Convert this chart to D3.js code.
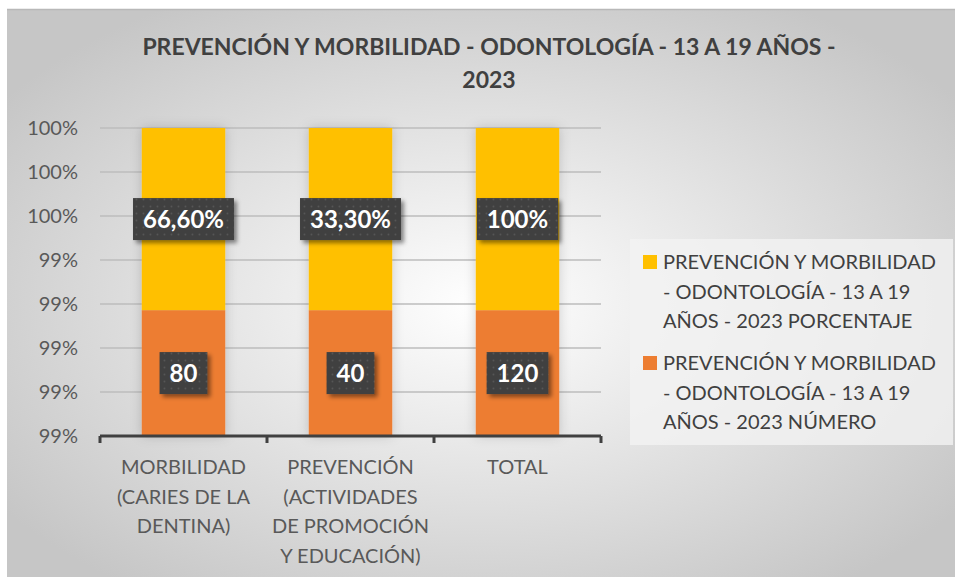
<!DOCTYPE html>
<html>
<head>
<meta charset="utf-8">
<script src="https://d3js.org/d3.v7.min.js"></script>
<style>
  body { margin: 0; background: #fff; }
  text { font-family: Lato, "Open Sans", sans-serif; }
</style>
</head>
<body>
<script>
// chart values
var categories = ['MORBILIDAD (CARIES DE LA DENTINA)', 'PREVENCIÓN (ACTIVIDADES DE PROMOCIÓN Y EDUCACIÓN)', 'TOTAL'];
var categoryLines = [['MORBILIDAD', '(CARIES DE LA', 'DENTINA)'], ['PREVENCIÓN', '(ACTIVIDADES', 'DE PROMOCIÓN', 'Y EDUCACIÓN)'], ['TOTAL']];
var numbers = [80, 40, 120];
var percentLabels = ['66,60%', '33,30%', '100%'];
// where each segment sits on the (odd) value axis
var axisMin = 0.993, axisMax = 1.0;
var numberTop = [0.99586, 0.99586, 0.99586];
var percentTop = [1.0, 1.0, 1.0];
var tickValues = [0.993, 0.994, 0.995, 0.996, 0.997, 0.998, 0.999, 1.0];
var tickLabels = ['99%', '99%', '99%', '99%', '99%', '100%', '100%', '100%'];
var seriesNames = [
  ['PREVENCIÓN Y MORBILIDAD', '- ODONTOLOGÍA - 13 A 19', 'AÑOS - 2023 PORCENTAJE'],
  ['PREVENCIÓN Y MORBILIDAD', '- ODONTOLOGÍA - 13 A 19', 'AÑOS - 2023 NÚMERO']
];
var colors = ['#ffc000', '#ed7d31'];

var width = 955, height = 577;
var svg = d3.select('body').append('svg').attr('width', width).attr('height', height);
var defs = svg.append('defs');

var bg = defs.append('radialGradient').attr('id', 'bg').attr('cx', '50%').attr('cy', '52%').attr('r', '62%');
bg.append('stop').attr('offset', '0%').attr('stop-color', '#ffffff');
bg.append('stop').attr('offset', '100%').attr('stop-color', '#c6c6c6');

var sh = defs.append('filter').attr('id', 'boxShadow').attr('x', '-20%').attr('y', '-20%').attr('width', '150%').attr('height', '160%');
sh.append('feDropShadow').attr('dx', 3).attr('dy', 3).attr('stdDeviation', 2).attr('flood-color', '#000').attr('flood-opacity', 0.45);

var barSh = defs.append('filter').attr('id', 'barShadow').attr('x', '-30%').attr('y', '-10%').attr('width', '160%').attr('height', '120%');
barSh.append('feDropShadow').attr('dx', 0).attr('dy', 0).attr('stdDeviation', 6).attr('flood-color', '#000').attr('flood-opacity', 0.18);

var pat = defs.append('pattern').attr('id', 'dots').attr('width', 7).attr('height', 7).attr('patternUnits', 'userSpaceOnUse');
pat.append('rect').attr('width', 7).attr('height', 7).attr('fill', '#404040');
pat.append('circle').attr('cx', 3.5).attr('cy', 3.5).attr('r', 0.9).attr('fill', '#575757');

// chart area background
svg.append('rect').attr('x', 7).attr('y', 9).attr('width', width - 7).attr('height', height - 9).attr('fill', 'url(#bg)');
svg.append('line').attr('x1', 7).attr('x2', width).attr('y1', 9.5).attr('y2', 9.5).attr('stroke', '#b8b8b8').attr('stroke-width', 1.5);

// title
var title = svg.append('text').attr('text-anchor', 'middle').attr('font-weight', 'bold').attr('font-size', 23).attr('fill', '#404040');
title.append('tspan').attr('x', 489).attr('y', 55).text('PREVENCIÓN Y MORBILIDAD - ODONTOLOGÍA - 13 A 19 AÑOS -');
title.append('tspan').attr('x', 489).attr('y', 88).text('2023');

var x = d3.scaleBand().domain(categories).range([100, 601]).paddingInner(0.5).paddingOuter(0.25);
var y = d3.scaleLinear().domain([axisMin, axisMax]).range([436, 128]);

// gridlines
svg.append('g').selectAll('line').data(tickValues.slice(1)).join('line')
  .attr('x1', 100).attr('x2', 601).attr('y1', d => y(d)).attr('y2', d => y(d))
  .attr('stroke', '#bdbdbd').attr('stroke-width', 1.5);

// y axis labels
svg.append('g').selectAll('text').data(tickValues).join('text')
  .attr('x', 78).attr('y', d => y(d)).attr('dy', '0.35em').attr('text-anchor', 'end')
  .attr('font-size', 20).attr('fill', '#595959')
  .text((d, i) => tickLabels[i]);

// bars
var bars = svg.append('g').attr('filter', 'url(#barShadow)');
bars.selectAll('rect.num').data(categories).join('rect').attr('class', 'num')
  .attr('x', d => x(d)).attr('width', x.bandwidth())
  .attr('y', (d, i) => y(numberTop[i])).attr('height', (d, i) => y(axisMin) - y(numberTop[i]))
  .attr('fill', colors[1]);
bars.selectAll('rect.pct').data(categories).join('rect').attr('class', 'pct')
  .attr('x', d => x(d)).attr('width', x.bandwidth())
  .attr('y', (d, i) => y(percentTop[i])).attr('height', (d, i) => y(numberTop[i]) - y(percentTop[i]))
  .attr('fill', colors[0]);

// x axis
var xAxis = svg.append('g').attr('transform', 'translate(0,436)');
xAxis.append('line').attr('x1', 100).attr('x2', 601).attr('stroke', '#404040').attr('stroke-width', 3);
var step = x.step();
xAxis.selectAll('line.tk').data(d3.range(categories.length + 1)).join('line').attr('class', 'tk')
  .attr('x1', i => 100 + i * step).attr('x2', i => 100 + i * step)
  .attr('y1', 0).attr('y2', 7).attr('stroke', '#404040').attr('stroke-width', 3);

// category labels
categories.forEach(function(c, i) {
  var t = svg.append('text').attr('text-anchor', 'middle').attr('font-size', 20).attr('fill', '#595959');
  categoryLines[i].forEach(function(line, j) {
    t.append('tspan').attr('x', x(c) + x.bandwidth() / 2).attr('y', 474 + j * 29.5).text(line);
  });
});

// data labels
function dataLabel(cx, cy, txt) {
  var g = svg.append('g');
  var box = g.append('rect').attr('fill', 'url(#dots)').attr('filter', 'url(#boxShadow)');
  var t = g.append('text').attr('x', cx).attr('y', cy).attr('dy', '0.36em').attr('text-anchor', 'middle')
    .attr('font-weight', 'bold').attr('font-size', 24).attr('fill', '#ffffff').text(txt);
  var w = t.node().getComputedTextLength();
  box.attr('x', cx - w / 2 - 10).attr('y', cy - 21).attr('width', w + 20).attr('height', 42);
}
categories.forEach(function(c, i) {
  var cx = x(c) + x.bandwidth() / 2;
  dataLabel(cx, (y(percentTop[i]) + y(numberTop[i])) / 2, percentLabels[i]);
  dataLabel(cx, (y(numberTop[i]) + y(axisMin)) / 2, numbers[i]);
});

// legend
svg.append('rect').attr('x', 630).attr('y', 239).attr('width', 323).attr('height', 206).attr('fill', '#f2f2f2').attr('opacity', 0.8);
seriesNames.forEach(function(lines, k) {
  var top = 262 + k * 101;
  svg.append('rect').attr('x', 643).attr('y', top - 7).attr('width', 14).attr('height', 14).attr('fill', colors[k]);
  var t = svg.append('text').attr('font-size', 20).attr('fill', '#404040');
  lines.forEach(function(line, j) {
    t.append('tspan').attr('x', 663).attr('y', top + j * 29.5).attr('dy', '0.35em').text(line);
  });
});
</script>
</body>
</html>
